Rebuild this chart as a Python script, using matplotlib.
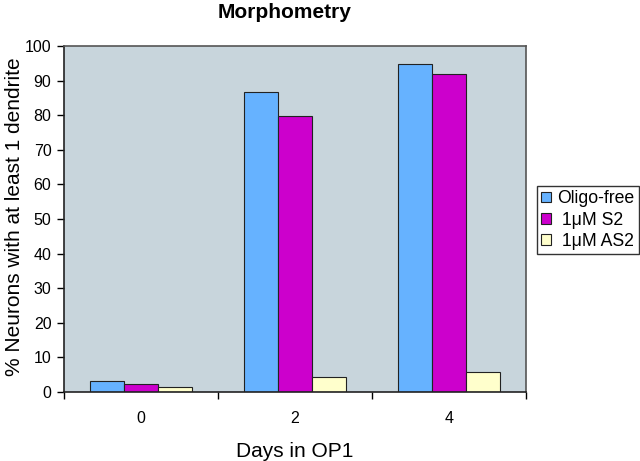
import matplotlib
matplotlib.use("Agg")
import matplotlib.pyplot as plt
import numpy as np

plt.rcParams['font.family'] = ['Liberation Sans', 'DejaVu Sans']

categories = ["0", "2", "4"]
series_names = ["Oligo-free", " 1\u03bcM S2", " 1\u03bcM AS2"]
oligo_free = [3.3, 86.6, 94.8]
s2 = [2.4, 79.8, 91.8]
as2 = [1.4, 4.2, 5.9]
colors = ["#66B2FF", "#CC00CC", "#FFFFCC"]

fig = plt.figure(figsize=(6.4, 4.61), dpi=100)
ax = fig.add_axes([0.1, 0.1497, 0.722, 0.7505])
ax.set_facecolor("#C8D5DC")

x = np.arange(len(categories))
w = 0.222
for i, (vals, name, c) in enumerate(zip([oligo_free, s2, as2], series_names, colors)):
    ax.bar(x + (i - 1) * w, vals, width=w, color=c, edgecolor="#222222", linewidth=0.8, label=name)

ax.set_xlim(-0.5, 2.5)
ax.set_ylim(0, 100)
ax.set_yticks(range(0, 101, 10))
ax.set_xticks(x)
ax.set_xticklabels(categories)
ax.set_xticks([-0.5, 0.5, 1.5, 2.5], minor=True)
ax.tick_params(axis='x', which='major', length=0, labelsize=11.5, pad=14)
ax.tick_params(axis='x', which='minor', length=5, direction='out', width=1)
ax.tick_params(axis='y', labelsize=11.5, length=5, direction='out', width=1, pad=4)
for s in ax.spines.values():
    s.set_linewidth(1.2)
    s.set_color("#222222")
ax.spines['top'].set_color("#555555")
ax.spines['right'].set_color("#555555")

fig.text(0.022, 0.529, "% Neurons with at least 1 dendrite", rotation=90,
         ha='center', va='center', fontsize=15)
ax.set_xlabel("Days in OP1", fontsize=15, labelpad=11)
fig.text(0.445, 0.972, "Morphometry", ha='center', va='center', fontsize=15, fontweight='bold')

leg = fig.legend(loc='upper left', bbox_to_anchor=(0.839, 0.597), frameon=True, fancybox=False,
                 edgecolor='black', fontsize=12.7, handlelength=0.55, handleheight=0.55,
                 handletextpad=0.35, borderpad=0.25, labelspacing=0.25, borderaxespad=0)
leg.get_frame().set_linewidth(1.0)

fig.savefig("out.png", dpi=100)
